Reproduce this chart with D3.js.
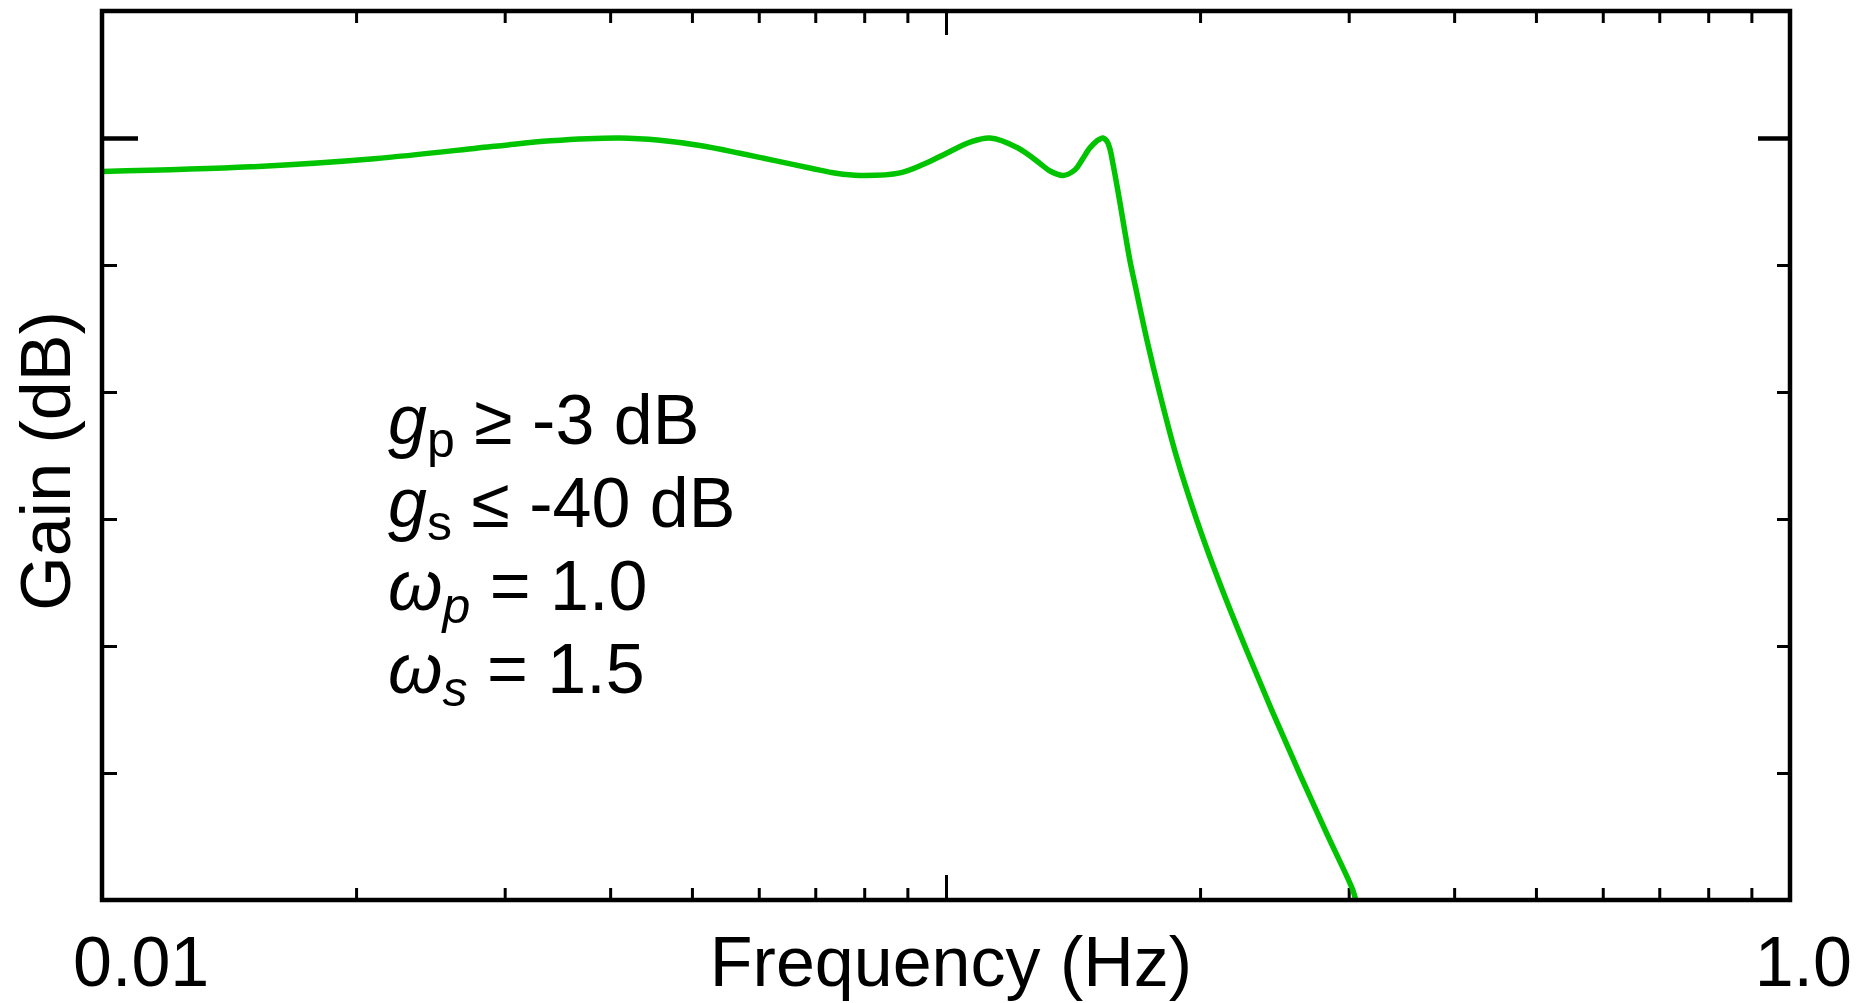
<!DOCTYPE html>
<html>
<head>
<meta charset="utf-8">
<script src="https://cdn.jsdelivr.net/npm/d3@7"></script>
<style>
    body { margin: 0; background: #fff; }
    text { font-family: "Liberation Sans", Arial, sans-serif; fill: #000; }
</style>
</head>
<body>
<div id="container"></div>
<script>

var svgWidth = 1872;
var svgHeight = 1003;

var plotLeft = 102, plotRight = 1790, plotTop = 11, plotBottom = 900;

// response
var freqHz = [0.0100, 0.0150, 0.0210, 0.0292, 0.0340, 0.0411, 0.0458, 0.0511, 0.0570, 0.0627,
    0.0694, 0.0741, 0.0791, 0.0882, 0.0942, 0.1003, 0.1068, 0.1127, 0.1214, 0.1292, 0.1328, 0.1376,
    0.1422, 0.1450, 0.1478, 0.1508, 0.1535, 0.1552, 0.1564, 0.1578, 0.1593, 0.1608, 0.1630, 0.1652,
    0.1675, 0.1729, 0.1793, 0.1876, 0.1982, 0.2112, 0.2272, 0.2442, 0.2627, 0.2825, 0.3035, 0.3060];
var gainDb = [-2.64, -2.27, -1.63, -0.65, -0.22, 0.0, -0.18, -0.59, -1.2, -1.78,
    -2.4, -2.78, -2.95, -2.75, -2.05, -1.18, -0.33, 0.0, -0.75, -2.0, -2.6, -2.95,
    -2.5, -1.7, -0.85, -0.25, 0.0, -0.28, -0.87, -2.13, -3.62, -5.16, -7.48, -9.69,
    -11.57, -15.83, -20.2, -25.12, -30.08, -35.12, -40.38, -45.33, -50.12, -54.76, -59.24, -60.1];

var xMinorTicks = [0.02, 0.03, 0.04, 0.05, 0.06, 0.07, 0.08, 0.09, 0.2, 0.3, 0.4, 0.5, 0.6, 0.7, 0.8, 0.9];
var xMajorTicks = [0.1];
var xTickLabels = ['0.01', '1.0'];
var yMinorTicks = [-10, -20, -30, -40, -50];
var yMajorTicks = [0];

var annotationLines = [
    {sym: 'g', symItalic: true, sub: 'p', subItalic: false, rest: ' \u2265 -3 dB'},
    {sym: 'g', symItalic: true, sub: 's', subItalic: false, rest: ' \u2264 -40 dB'},
    {sym: '\u03c9', symItalic: true, sub: 'p', subItalic: true, rest: ' = 1.0'},
    {sym: '\u03c9', symItalic: true, sub: 's', subItalic: true, rest: ' = 1.5'}
];

var svg = d3.select('body').select('#container').append('svg')
        .attr("width", svgWidth)
        .attr("height", svgHeight)
        .style('display', 'block')
;

svg.append('rect')
    .attr('width', svgWidth)
    .attr('height', svgHeight)
    .style('fill', '#fff')
;

var x = d3.scaleLog()
    .domain([0.01, 1.0])
    .range([plotLeft, plotRight]);

var y = d3.scaleLinear()
    .domain([-60, 10])
    .range([plotBottom, plotTop]);

function tickAxis(axisFn, scale, values, size, width, translate) {
    var g = svg.append('g')
        .attr('transform', translate)
        .call(axisFn(scale).tickValues(values).tickSize(size).tickFormat(''));
    g.select('.domain').remove();
    g.selectAll('.tick line')
        .style('stroke', '#000')
        .style('stroke-width', width);
    return g;
}

// ticks point into the plot on all four sides
tickAxis(d3.axisBottom, x, xMinorTicks, -12, 3, 'translate(0,' + plotBottom + ')');
tickAxis(d3.axisBottom, x, xMajorTicks, -25, 3, 'translate(0,' + plotBottom + ')');
tickAxis(d3.axisTop, x, xMinorTicks, -12, 3, 'translate(0,' + plotTop + ')');
tickAxis(d3.axisTop, x, xMajorTicks, -24, 3, 'translate(0,' + plotTop + ')');
tickAxis(d3.axisLeft, y, yMinorTicks, -15, 3, 'translate(' + plotLeft + ',0)');
tickAxis(d3.axisLeft, y, yMajorTicks, -36, 4.5, 'translate(' + plotLeft + ',0)');
tickAxis(d3.axisRight, y, yMinorTicks, -13, 3, 'translate(' + plotRight + ',0)');
tickAxis(d3.axisRight, y, yMajorTicks, -32, 4.5, 'translate(' + plotRight + ',0)');

svg.append('clipPath')
    .attr('id', 'plot-clip')
    .append('rect')
    .attr('x', plotLeft)
    .attr('y', plotTop)
    .attr('width', plotRight - plotLeft)
    .attr('height', plotBottom - plotTop)
;

var line = d3.line()
    .x(function (d, i) { return x(freqHz[i]); })
    .y(function (d) { return y(d); })
    .curve(d3.curveCatmullRom.alpha(0.5));

svg.append('path')
    .datum(gainDb)
    .attr('clip-path', 'url(#plot-clip)')
    .attr('d', line)
    .style('fill', 'none')
    .style('stroke', '#00c400')
    .style('stroke-width', 5.5)
    .style('stroke-linejoin', 'round')
;

svg.append('rect')
    .attr('x', plotLeft)
    .attr('y', plotTop)
    .attr('width', plotRight - plotLeft)
    .attr('height', plotBottom - plotTop)
    .style('fill', 'none')
    .style('stroke', '#000')
    .style('stroke-width', 4.5)
;

svg.append('text')
    .attr('x', x(0.01) - 29)
    .attr('y', 986)
    .style('font-size', '70px')
    .text(xTickLabels[0]);

svg.append('text')
    .attr('x', x(1.0) + 62)
    .attr('y', 986)
    .attr('text-anchor', 'end')
    .style('font-size', '70px')
    .text(xTickLabels[1]);

svg.append('text')
    .attr('x', 951)
    .attr('y', 986)
    .attr('text-anchor', 'middle')
    .style('font-size', '70px')
    .text('Frequency (Hz)');

svg.append('text')
    .attr('transform', 'translate(70,461) rotate(-90)')
    .attr('text-anchor', 'middle')
    .style('font-size', '70px')
    .text('Gain (dB)');

var lineGap = 83;
annotationLines.forEach(function (ln, i) {
    var t = svg.append('text')
        .attr('x', 388)
        .attr('y', 444 + i * lineGap)
        .style('font-size', '70px');
    t.append('tspan')
        .style('font-style', ln.symItalic ? 'italic' : 'normal')
        .text(ln.sym);
    t.append('tspan')
        .attr('dy', 13)
        .style('font-size', '50px')
        .style('font-style', ln.subItalic ? 'italic' : 'normal')
        .text(ln.sub);
    t.append('tspan')
        .attr('dy', -13)
        .style('white-space', 'pre')
        .text(ln.rest);
});

</script>
</body>
</html>
